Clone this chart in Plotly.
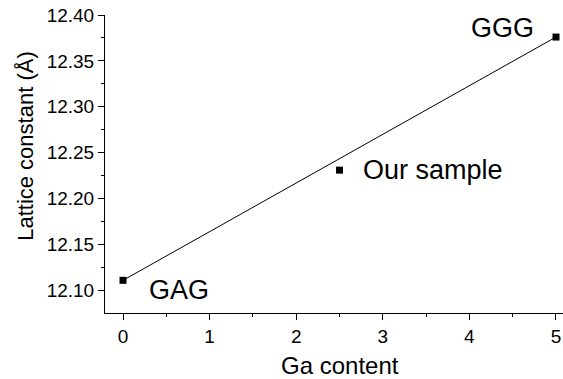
import plotly.graph_objects as go

# Lattice constant vs Ga content
ga_content = [0, 2.5, 5]
lattice = [12.111, 12.231, 12.376]
labels = ["GAG", "Our sample", "GGG"]

x_title = "Ga content"
y_title = "Lattice constant (Å)"

# Linear (Vegard) line between the end members
line_x = [ga_content[0], ga_content[-1]]
line_y = [lattice[0], lattice[-1]]

FONT = "Liberation Sans, Arial"

fig = go.Figure()
fig.add_trace(go.Scatter(
    x=line_x, y=line_y, mode="lines",
    line=dict(color="black", width=1), showlegend=False, cliponaxis=False,
))
fig.add_trace(go.Scatter(
    x=ga_content, y=lattice, mode="markers",
    marker=dict(symbol="square", size=7, color="black"),
    showlegend=False, cliponaxis=False,
))

# Point labels: (xanchor, xshift, yshift)
placement = [("left", 24, -10), ("left", 21, 0), ("right", -20, 9)]
for xv, yv, t, (anc, dx, dy) in zip(ga_content, lattice, labels, placement):
    fig.add_annotation(
        x=xv, y=yv, text=t, showarrow=False, xanchor=anc, yanchor="middle",
        xshift=dx, yshift=dy,
        font=dict(size=27, color="black", family=FONT),
    )

# Axis titles placed as paper-referenced text
fig.add_annotation(
    x=0.513, y=-0.177, xref="paper", yref="paper", text=x_title,
    showarrow=False, xanchor="center", yanchor="middle",
    font=dict(size=24, color="black", family=FONT),
)
fig.add_annotation(
    x=-0.1725, y=0.561, xref="paper", yref="paper", text=y_title,
    showarrow=False, xanchor="center", yanchor="middle", textangle=-90,
    font=dict(size=22, color="black", family=FONT),
)

axis_common = dict(
    showline=True, linecolor="black", linewidth=1,
    ticks="outside", ticklen=6, tickwidth=1, tickcolor="black",
    showgrid=False, zeroline=False, mirror=False,
    tickfont=dict(size=19, color="black", family=FONT),
)

fig.update_xaxes(
    range=[-0.208, 5.081], dtick=1, tick0=0,
    minor=dict(dtick=0.5, ticklen=3, ticks="outside", tickcolor="black"),
    **axis_common,
)
fig.update_yaxes(
    range=[12.0754, 12.40], dtick=0.05, tick0=12.10, tickformat=".2f",
    minor=dict(dtick=0.025, ticklen=3, ticks="outside", tickcolor="black"),
    **axis_common,
)

fig.update_layout(
    width=563, height=379,
    margin=dict(l=105, r=0, t=15, b=66),
    paper_bgcolor="white", plot_bgcolor="white",
)

fig.write_html("out.html")
